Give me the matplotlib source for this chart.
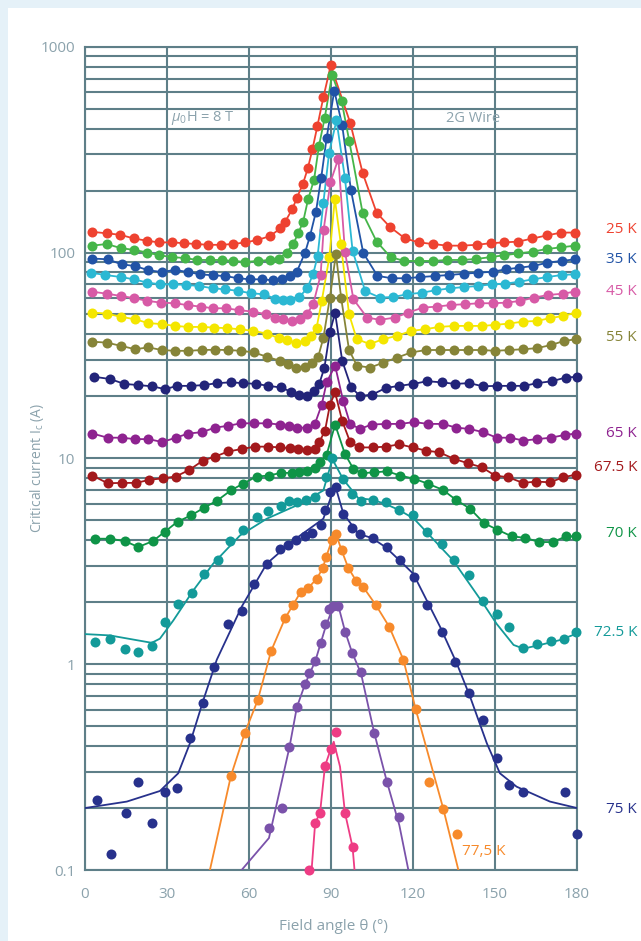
import matplotlib
matplotlib.use('Agg')
import matplotlib.pyplot as plt
from matplotlib.patches import Rectangle
import matplotlib.transforms as mtransforms

plt.rcParams['font.family'] = ['Open Sans', 'DejaVu Sans']
plt.rcParams['mathtext.fontset'] = 'custom'
plt.rcParams['mathtext.rm'] = 'Open Sans'
plt.rcParams['mathtext.it'] = 'Open Sans:italic'

# ---------------- data (angle in degrees, critical current in A) ----------------
th_25 = [2.7, 7.9, 12.8, 17.9, 22.8, 27.1, 31.9, 36.2, 40.6, 45.1, 49.7, 54.2, 58.7, 63.0, 67.6, 71.5, 73.2, 75.9, 77.5, 79.7,
         81.5, 83.2, 85.0, 87.2, 89.9, 97.0, 101.6, 106.7, 111.6, 117.1, 122.2, 127.2, 132.6, 137.8, 143.3, 148.4, 153.3,
         158.5, 163.7, 168.9, 174.2, 179.3]
ic_25 = [126, 124, 122, 117, 114, 112, 112, 111, 110, 109, 109, 110, 112, 115, 120, 131, 141, 163, 184, 215,
         256, 317, 410, 567, 812, 428, 243, 156, 133, 117, 112, 110, 108, 108, 109, 111, 112,
         113, 117, 121, 125, 125]

th_30 = [2.7, 7.9, 13.2, 17.9, 22.8, 27.1, 31.9, 36.6, 41.1, 45.7, 50.0, 54.2, 58.7, 63.3, 67.6, 70.8, 73.8, 76.2, 78.1, 79.8,
         81.6, 83.8, 85.6, 87.7, 90.4, 93.9, 96.7, 101.6, 106.7, 111.8, 116.8, 122.2, 127.2, 132.6, 137.8, 143.0, 148.4,
         153.3, 158.5, 163.8, 168.9, 174.2, 179.3]
ic_30 = [108, 110, 105, 103, 100, 97, 95, 94, 92, 92, 92, 91, 90, 91, 92, 93, 100, 110, 125, 141,
         181, 226, 330, 451, 731, 543, 347, 155, 113, 95, 91, 91, 91, 92, 92, 93, 95,
         97, 99, 101, 104, 106, 108]

th_35 = [2.7, 8.3, 13.4, 18.3, 23.2, 28.1, 32.9, 37.6, 42.1, 46.7, 51.3, 55.9, 60.4, 64.7, 68.9, 72.0, 75.0, 77.5, 80.5, 82.3,
         84.5, 86.4, 88.4, 91.2, 94.1, 97.3, 101.8, 107.0, 112.2, 117.5, 122.6, 128.1, 133.3, 138.7, 143.9, 149.2, 154.0,
         158.9, 164.0, 169.2, 174.4, 179.3]
ic_35 = [93.5, 92.7, 87.6, 86, 82, 80.4, 82.3, 80.4, 78.4, 77.5, 76.9, 75, 74.1, 74.1, 73.3, 74.6, 76.9, 80.7, 99.8, 120,
         158, 230, 360, 612, 415, 201, 99.5, 77, 75, 75, 76, 76.9, 77.8, 78.9, 79.8, 80.7, 82.9,
         84.4, 86, 89.3, 91, 92.7]

th_40 = [2.1, 7.3, 13.2, 17.9, 22.8, 27.4, 32.3, 37.0, 41.8, 46.7, 51.2, 56.1, 60.7, 65.5, 69.5, 72.3, 75.0, 78.4, 81.3, 83.5,
         85.1, 87.2, 89.3, 92.0, 95.1, 97.9, 102.5, 107.9, 112.8, 117.9, 123.2, 128.4, 133.6, 138.7, 143.9, 148.8, 153.7,
         158.9, 163.8, 169.2, 174.4, 179.3]
ic_40 = [79.8, 77.8, 76, 74.1, 71.4, 70.1, 70.1, 69.6, 68.8, 67, 66.3, 65.1, 63.4, 62.7, 59.7, 58.6, 58.6, 60.8, 67, 78.9,
         96, 174, 305, 439, 230, 102, 65, 60.4, 60.8, 62.7, 63.8, 65.6, 67, 68, 68.8, 70.1, 70.6,
         72.1, 74.1, 76, 77.8, 78.4]

th_45 = [2.4, 7.9, 13.2, 18.0, 22.8, 27.8, 32.9, 37.6, 42.3, 46.9, 51.5, 56.3, 61.4, 66.2, 69.5, 72.6, 75.6, 78.7, 81.3, 83.5,
         86.2, 87.3, 89.8, 92.7, 95.1, 98.2, 103.2, 107.9, 113.4, 118.3, 123.6, 128.7, 133.8, 139.0, 144.3, 149.4, 154.3,
         159.2, 164.3, 169.5, 174.8, 179.3]
ic_45 = [64.6, 63.1, 61.5, 60, 58.2, 57.1, 56.7, 55.5, 54.6, 53.6, 53.6, 52.5, 51.6, 50.2, 48, 47.4, 46.5, 47.4, 50.5, 56.1,
         77.8, 129, 220, 286, 101, 59.3, 48.3, 47.1, 48.3, 51.1, 54, 54.6, 55.6, 56.1, 56.7, 56.7, 57.1,
         58.2, 60.4, 62.2, 63.1, 64.6]

th_50 = [2.7, 7.9, 13.2, 18.3, 23.2, 28.1, 32.9, 37.8, 42.7, 47.3, 51.8, 56.7, 61.6, 66.5, 70.8, 73.8, 77.3, 80.5, 82.6, 84.7,
         86.6, 89.4, 91.4, 93.6, 96.6, 99.4, 104.2, 109.2, 114.3, 119.3, 124.4, 129.6, 135.0, 140.2, 145.2, 150.0, 155.3,
         160.4, 165.3, 170.1, 175.0, 179.6]
ic_50 = [51.1, 50.5, 48.7, 47.4, 45.4, 44.9, 44, 43.5, 43.5, 43.2, 42.9, 42.4, 41.6, 40.4, 38.4, 37.5, 36.5, 37.2, 39.4, 42.9,
         58, 95, 182, 110, 50.2, 38, 35.9, 38, 39.4, 41.6, 42.4, 43.5, 44, 44, 44, 44.5, 45.2,
         46.2, 46.5, 48, 49.2, 51.1]

th_55 = [2.4, 7.9, 13.2, 18.3, 23.2, 28.1, 32.9, 37.8, 42.7, 47.6, 52.4, 57.1, 61.8, 66.7, 71.3, 74.4, 77.2, 80.5, 82.9, 85.3,
         87.2, 89.6, 91.8, 93.7, 96.6, 99.5, 104.3, 109.2, 114.3, 119.3, 124.8, 129.9, 135.0, 140.2, 145.2, 150.0, 155.3,
         160.4, 165.3, 170.4, 175.3, 179.6]
ic_55 = [36.9, 36.5, 35.2, 33.9, 34.6, 33.6, 33.3, 33.3, 33.6, 33.7, 33.6, 33.3, 32.7, 31.1, 29.8, 28.7, 27.6, 27.9, 28.9, 31.1,
         38.4, 60.4, 98.4, 60.4, 33.6, 28.2, 27.6, 29.2, 30.9, 32.7, 33.6, 33.6, 33.6, 33.6, 33.6, 33.3, 33.6,
         33.9, 34.3, 35.5, 37.2, 37.9]

th_60 = [3.4, 9.1, 14.4, 19.5, 24.4, 29.3, 33.8, 38.7, 43.5, 48.4, 53.3, 57.9, 62.6, 67.1, 71.6, 75.3, 78.4, 81.3, 83.8, 85.7,
         87.6, 89.6, 91.5, 94.1, 97.4, 100.6, 105.1, 110.1, 115.0, 120.1, 125.2, 130.5, 135.4, 140.6, 145.5, 150.9, 155.8,
         160.6, 165.5, 170.8, 175.9, 179.9]
ic_60 = [24.9, 24.3, 23, 22.7, 22.4, 21.7, 22.5, 22.5, 22.7, 23.2, 23.4, 23.2, 23, 22.5, 22.1, 21.1, 20.4, 20, 21.3, 23,
         27.6, 41.1, 50.9, 29.8, 22.1, 20.1, 20.4, 22, 22.5, 23, 23.7, 23.4, 23, 23.2, 22.4, 22.5, 22.5,
         22.5, 23.2, 23.7, 24.7, 24.9]

th_65 = [2.7, 8.3, 13.4, 18.3, 23.2, 28.3, 33.2, 37.8, 42.7, 47.6, 52.4, 57.1, 61.9, 66.7, 71.3, 74.7, 77.7, 81.1, 84.1, 86.6,
         88.4, 91.5, 94.5, 97.0, 100.6, 104.9, 110.1, 115.2, 120.4, 125.6, 130.9, 135.8, 140.6, 145.7, 150.6, 155.5,
         160.4, 165.5, 170.4, 175.6, 179.6]
ic_65 = [13.2, 12.6, 12.6, 12.4, 12.4, 12, 12.6, 13.2, 13.4, 14.1, 14.4, 14.8, 14.8, 14.8, 14.6, 14.4, 14.1, 14.1, 14.7, 18.2,
         23.4, 28.2, 18.9, 14.7, 13.9, 14.6, 14.7, 14.7, 15, 14.7, 14.7, 14.1, 13.9, 13.4, 12.6, 12.6,
         12.2, 12.4, 12.6, 13, 13.2]

th_675 = [2.7, 8.3, 13.7, 18.7, 23.5, 28.4, 33.2, 38.2, 43.1, 47.6, 52.4, 57.3, 62.2, 67.1, 71.3, 75.0, 78.0, 81.3, 84.1, 85.7,
          87.8, 89.6, 91.5, 94.1, 97.0, 100.4, 105.3, 110.1, 115.0, 119.9, 124.8, 129.6, 135.0, 140.2, 145.2, 150.0, 154.9,
          160.2, 165.1, 170.1, 175.0, 179.6]
ic_675 = [8.25, 7.57, 7.6, 7.6, 7.86, 8.0, 8.16, 8.79, 9.75, 10.2, 10.8, 11.1, 11.4, 11.4, 11.3, 11.2, 11.1, 11.0, 11.1, 12.0,
          13.6, 18.2, 20.9, 15.2, 12.0, 11.3, 11.3, 11.4, 11.7, 11.3, 10.9, 10.7, 9.94, 9.46, 9.05, 8.25, 8.09,
          7.6, 7.71, 7.65, 8.09, 8.34]

th_70 = [3.7, 9.1, 14.6, 19.5, 24.8, 29.3, 33.9, 38.8, 43.5, 48.4, 53.3, 57.7, 62.8, 67.3, 71.6, 75.6, 78.4, 81.3, 84.2, 86.0,
         88.4, 91.5, 95.1, 98.2, 101.2, 105.7, 110.6, 115.3, 120.5, 125.6, 130.9, 135.7, 140.9, 146.0, 150.9, 156.1,
         161.0, 166.2, 171.1, 176.0, 179.6]
ic_70 = [4.07, 4.07, 3.96, 3.71, 3.96, 4.41, 4.93, 5.28, 5.75, 6.24, 6.98, 7.52, 8.16, 8.25, 8.5, 8.5, 8.55, 8.65, 8.99, 9.57,
         10.4, 14.6, 10.5, 8.89, 8.47, 8.55, 8.65, 8.25, 7.95, 7.52, 7.03, 6.29, 5.69, 4.84, 4.5, 4.18,
         4.11, 3.92, 3.92, 4.18, 4.18]

th_725 = [3.7, 9.1, 14.6, 19.5, 24.4, 29.3, 34.1, 39.0, 43.6, 48.8, 53.2, 57.9, 62.8, 67.1, 71.6, 74.8, 77.7, 80.9, 84.2, 88.1,
          90.5, 94.5, 97.6, 101.0, 105.3, 110.1, 115.0, 120.1, 125.0, 130.5, 135.0, 140.6, 145.5, 150.6, 155.3,
          160.4, 165.3, 170.4, 175.3, 179.6]
ic_725 = [1.28, 1.32, 1.18, 1.15, 1.22, 1.6, 1.97, 2.22, 2.73, 3.22, 3.96, 4.47, 5.18, 5.52, 5.9, 6.19, 6.12, 6.29, 6.48, 8.16,
          10.0, 7.95, 6.73, 6.24, 6.29, 6.12, 5.63, 5.28, 4.41, 3.82, 3.22, 2.7, 2.03, 1.75, 1.52,
          1.2, 1.26, 1.3, 1.32, 1.43]
fit_th_725 = [0, 9, 24.4, 27.4, 32.3, 39.6, 46.9, 56.7, 66.5, 78.7, 87.2, 90.5, 94.5, 100, 105, 110, 115, 120.3, 134.7,
              145.7, 150.6, 156.8, 160.4, 166.5, 173.8, 180]
fit_ic_725 = [1.40, 1.38, 1.27, 1.33, 1.63, 2.28, 3.08, 4.22, 5.09, 6.01, 6.98, 9.9, 7.9, 6.4, 6.3, 6.0, 5.6, 5.1, 3.19,
              1.97, 1.57, 1.24, 1.19, 1.24, 1.31, 1.41]

th_75 = [4.5, 9.5, 14.9, 19.5, 24.4, 29.3, 33.6, 38.4, 43.1, 47.3, 52.4, 57.3, 61.8, 66.7, 71.3, 74.4, 77.2, 80.5, 83.0, 86.2,
         87.8, 89.6, 91.8, 94.5, 97.6, 100.6, 105.5, 110.4, 115.3, 120.4, 125.2, 130.5, 135.4, 140.6, 145.5, 150.6,
         155.3, 160.4, 175.6, 179.9]
ic_75 = [0.219, 0.119, 0.189, 0.269, 0.169, 0.239, 0.25, 0.436, 0.645, 0.964, 1.56, 1.81, 2.44, 3.08, 3.64, 3.78, 4.02, 4.18,
         4.33, 4.77, 5.58, 6.85, 7.24, 5.34, 4.6, 4.27, 4.11, 3.7, 3.19, 2.65, 1.93, 1.43, 1.03, 0.721, 0.535, 0.349,
         0.259, 0.238, 0.240, 0.150]
fit_th_75 = [0, 15.3, 27.4, 34.1, 38.4, 43.3, 48.2, 57.3, 66.5, 76.2, 87.2, 91.5, 94.5, 100, 105, 110, 115, 120.1, 129.9,
             136, 140.9, 147, 151.8, 157.9, 170.1, 180]
fit_ic_75 = [0.200, 0.215, 0.242, 0.295, 0.413, 0.669, 1.05, 1.90, 3.08, 3.99, 5.09, 7.4, 5.4, 4.3, 4.1, 3.7, 3.2, 2.75, 1.52,
             1.01, 0.694, 0.413, 0.295, 0.254, 0.215, 0.200]

th_775 = [53.4, 58.5, 63.2, 68.1, 73.2, 76.0, 78.9, 81.7, 84.8, 87.0, 88.2, 90.3, 91.8, 93.9, 96.3, 99.2, 101.8, 106.5, 111.3,
          116.5, 121.0, 125.9, 131.1, 136.2]
ic_775 = [0.287, 0.465, 0.669, 1.16, 1.67, 1.93, 2.24, 2.35, 2.6, 2.93, 3.31, 3.99, 4.3, 3.57, 2.94, 2.54, 2.37, 1.93, 1.52,
          1.05, 0.603, 0.267, 0.198, 0.15]
fit_th_775 = [45.7, 53.4, 58.5, 63.2, 68.1, 73.2, 76.0, 78.9, 81.7, 84.8, 87.0, 88.2, 90.3, 91.8, 93.9, 96.3, 99.2, 101.8,
              106.5, 111.3, 116.5, 121.0, 131.1, 136.6]
fit_ic_775 = [0.1, 0.287, 0.465, 0.669, 1.16, 1.67, 1.93, 2.24, 2.35, 2.6, 2.93, 3.31, 3.99, 4.3, 3.57, 2.94, 2.54, 2.37,
              1.93, 1.52, 1.05, 0.603, 0.198, 0.1]

th_80 = [67.3, 72.0, 74.8, 77.5, 80.5, 82.1, 84.3, 86.2, 87.9, 89.4, 90.9, 92.7, 95.1, 97.6, 101.0, 105.7, 110.4, 115.0]
ic_80 = [0.160, 0.200, 0.395, 0.617, 0.800, 0.908, 1.04, 1.27, 1.56, 1.86, 1.92, 1.92, 1.43, 1.13, 0.918, 0.465, 0.269, 0.180]
fit_th_80 = [57.3, 67.3, 69.8, 74.8, 77.5, 80.5, 84.3, 87.9, 90.9, 92.7, 95.1, 97.6, 101.0, 105.7, 110.4, 115.0, 118.3]
fit_ic_80 = [0.1, 0.143, 0.2, 0.395, 0.617, 0.8, 1.04, 1.5, 1.92, 1.92, 1.45, 1.15, 0.9, 0.47, 0.27, 0.165, 0.1]

th_825 = [82.1, 84.2, 86.0, 87.8, 89.9, 92.0, 95.1, 97.9]
ic_825 = [0.1, 0.169, 0.19, 0.32, 0.386, 0.47, 0.19, 0.129]
fit_th_825 = [82.9, 84.2, 86.0, 87.8, 89.9, 91.0, 93.3, 95.1, 97.9, 98.6]
fit_ic_825 = [0.1, 0.169, 0.19, 0.32, 0.386, 0.42, 0.318, 0.19, 0.129, 0.1]

x_ticks = [0, 30, 60, 90, 120, 150, 180]
y_ticks = [0.1, 1, 10, 100, 1000]
y_tick_labels = ['0.1', '1', '10', '100', '1000']

# label text, label y-value (A)
temp_labels = ['25 K', '35 K', '45 K', '55 K', '65 K', '67.5 K', '70 K', '72.5 K', '75 K']
temp_label_y = [130, 93, 64.4, 38.5, 13.2, 9.02, 4.32, 1.43, 0.196]

# ---------------- styling ----------------
grid_col = '#5e7f88'
text_col = '#8ba2ac'

series = [
    (th_25, ic_25, '#ee4230', None, None),
    (th_30, ic_30, '#45b549', None, None),
    (th_35, ic_35, '#2153a6', None, None),
    (th_40, ic_40, '#2bb8d3', None, None),
    (th_45, ic_45, '#d75aa6', None, None),
    (th_50, ic_50, '#f4e600', None, None),
    (th_55, ic_55, '#868438', None, None),
    (th_60, ic_60, '#222479', None, None),
    (th_65, ic_65, '#8e2390', None, None),
    (th_675, ic_675, '#a3191c', None, None),
    (th_70, ic_70, '#0f9447', None, None),
    (th_725, ic_725, '#139a99', fit_th_725, fit_ic_725),
    (th_75, ic_75, '#27318c', fit_th_75, fit_ic_75),
    (th_775, ic_775, '#f78a2b', fit_th_775, fit_ic_775),
    (th_80, ic_80, '#7a52aa', fit_th_80, fit_ic_80),
    (th_825, ic_825, '#ee3c84', fit_th_825, fit_ic_825),
]
label_cols = ['#ee4230', '#2153a6', '#d75aa6', '#868438', '#8e2390', '#a3191c', '#0f9447', '#139a99', '#27318c']

fig = plt.figure(figsize=(6.41, 9.41), dpi=100, facecolor='#e5f1f8')
fig.patches.append(Rectangle((8 / 641, 0), 1, 1 - 8 / 941, transform=fig.transFigure,
                             facecolor='white', edgecolor='none', zorder=-10))

ax = fig.add_axes([85 / 641, 1 - 870 / 941, (577 - 85) / 641, (870 - 46.7) / 941])
ax.set_facecolor('white')
ax.set_yscale('log')
ax.set_xlim(0, 180)
ax.set_ylim(0.1, 1000)

ax.set_xticks(x_ticks)
ax.set_xticklabels([str(t) for t in x_ticks])
ax.set_yticks(y_ticks)
ax.set_yticklabels(y_tick_labels)
ax.yaxis.set_minor_locator(matplotlib.ticker.LogLocator(base=10, subs=range(2, 10)))
ax.yaxis.set_minor_formatter(matplotlib.ticker.NullFormatter())
ax.tick_params(which='both', length=0, labelsize=11, labelcolor=text_col)
ax.tick_params(axis='x', pad=12)
ax.tick_params(axis='y', pad=7)
ax.grid(True, which='major', axis='both', color=grid_col, lw=1.5)
ax.grid(True, which='minor', axis='y', color=grid_col, lw=1.5)
ax.set_axisbelow(True)
for s in ax.spines.values():
    s.set_color(grid_col)
    s.set_linewidth(1.5)

for th, ic, col, fth, fic in series:
    if fth is not None:
        ax.plot(fth, fic, '-', color=col, lw=1.3, zorder=3, clip_on=True)
    else:
        ax.plot(th, ic, '-', color=col, lw=1.3, zorder=3)
    ax.plot(th, ic, 'o', color=col, ms=7.2, mew=0, zorder=4, clip_on=False)

tr = mtransforms.blended_transform_factory(ax.transAxes, ax.transData)
for txt, yv, col in zip(temp_labels, temp_label_y, label_cols):
    ax.text(1.122, yv, txt, transform=tr, ha='right', va='center', color=col, fontsize=11)
ax.text(138, 0.123, '77,5 K', ha='left', va='center', color='#f78a2b', fontsize=11)

ax.text(31.3, 449, r'$\mu_{\mathregular{0}}$H = 8 T', ha='left', va='center', color=text_col, fontsize=10.5)
ax.text(132, 449, '2G Wire', ha='left', va='center', color=text_col, fontsize=10.5)

fig.text(333 / 641, 1 - 927 / 941, 'Field angle θ (°)', ha='center', va='center', color=text_col, fontsize=11)
fig.text(37 / 641, 1 - 468 / 941, r'Critical current I$_{\mathregular{c}}$ (A)', ha='center', va='center',
         rotation=90, color=text_col, fontsize=10)

fig.savefig('out.png', dpi=100, facecolor=fig.get_facecolor())
